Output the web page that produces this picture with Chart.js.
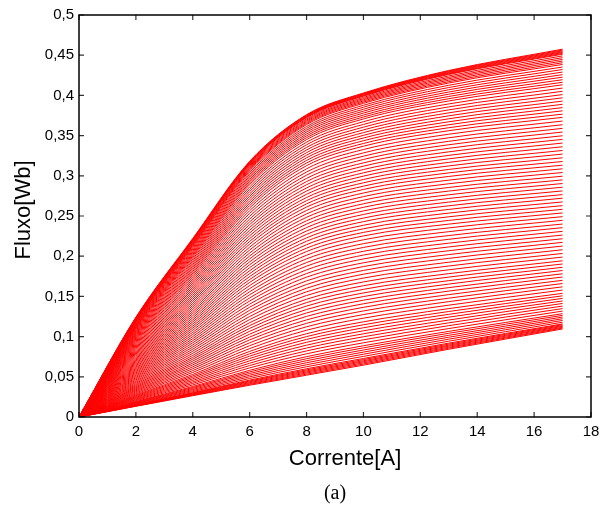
<!DOCTYPE html>
<html>
<head>
<meta charset="utf-8">
<title>Fluxo x Corrente</title>
<script src="https://cdn.jsdelivr.net/npm/chart.js@4.4.1/dist/chart.umd.min.js"></script>
<style>
  html, body { margin: 0; padding: 0; background: #fff; }
  #wrap { width: 607px; height: 510px; }
</style>
</head>
<body>
<div id="wrap"><canvas id="chart" width="607" height="510"></canvas></div>
<script>
// current samples [A], the same for every curve
const currents = [0, 2, 4, 6, 8, 10, 13, 17];

// flux [Wb] read at each current, one value per curve
// curve 0 = lowest (unaligned) ... curve 99 = highest (aligned)
const fluxAt0A = 0; // every curve starts at the origin
const fluxAt2A = [0.0133,
  0.0136, 0.0140, 0.0143, 0.0146, 0.0150, 0.0153,
  0.0160, 0.0167, 0.0173, 0.0180, 0.0187, 0.0193,
  0.0204, 0.0214, 0.0224, 0.0234, 0.0244, 0.0254, 0.0264, 0.0274,
  0.0287, 0.0300, 0.0313, 0.0326, 0.0338, 0.0351, 0.0364, 0.0377, 0.0390, 0.0403,
  0.0417, 0.0432, 0.0446, 0.0461, 0.0476, 0.0490, 0.0505, 0.0519, 0.0534, 0.0548, 0.0563, 0.0577, 0.0592,
  0.0606, 0.0621, 0.0636, 0.0650, 0.0665, 0.0679, 0.0694, 0.0708, 0.0723, 0.0737, 0.0752, 0.0767, 0.0781,
  0.0796, 0.0810, 0.0825, 0.0839, 0.0854, 0.0868, 0.0883, 0.0897, 0.0912, 0.0927, 0.0941, 0.0956, 0.0970,
  0.0983, 0.0996, 0.1009, 0.1022, 0.1035, 0.1047, 0.1060, 0.1073, 0.1086, 0.1099,
  0.1109, 0.1119, 0.1129, 0.1139, 0.1149, 0.1159, 0.1169, 0.1180,
  0.1186, 0.1193, 0.1200, 0.1206, 0.1213, 0.1220,
  0.1223, 0.1227, 0.1230, 0.1233, 0.1237, 0.1240];
const fluxAt4A = [0.0265,
  0.0271, 0.0278, 0.0284, 0.0291, 0.0297, 0.0304,
  0.0316, 0.0329, 0.0342, 0.0355, 0.0367, 0.0380,
  0.0399, 0.0418, 0.0436, 0.0455, 0.0474, 0.0493, 0.0511, 0.0530,
  0.0554, 0.0577, 0.0601, 0.0624, 0.0648, 0.0671, 0.0695, 0.0719, 0.0742, 0.0766,
  0.0792, 0.0818, 0.0844, 0.0870, 0.0896, 0.0923, 0.0949, 0.0975, 0.1001, 0.1027, 0.1053, 0.1080, 0.1106,
  0.1131, 0.1157, 0.1183, 0.1208, 0.1234, 0.1260, 0.1286, 0.1311, 0.1337, 0.1363, 0.1388, 0.1414, 0.1440,
  0.1465, 0.1490, 0.1515, 0.1541, 0.1566, 0.1591, 0.1616, 0.1642, 0.1667, 0.1692, 0.1717, 0.1743, 0.1768,
  0.1790, 0.1812, 0.1834, 0.1856, 0.1877, 0.1899, 0.1921, 0.1943, 0.1965, 0.1987,
  0.2004, 0.2021, 0.2037, 0.2054, 0.2071, 0.2088, 0.2105, 0.2122,
  0.2133, 0.2144, 0.2155, 0.2166, 0.2177, 0.2188,
  0.2193, 0.2198, 0.2204, 0.2209, 0.2215, 0.2220];
const fluxAt6A = [0.0395,
  0.0406, 0.0416, 0.0427, 0.0438, 0.0448, 0.0459,
  0.0479, 0.0500, 0.0520, 0.0541, 0.0561, 0.0581,
  0.0611, 0.0640, 0.0669, 0.0699, 0.0728, 0.0757, 0.0786, 0.0816,
  0.0851, 0.0887, 0.0923, 0.0959, 0.0994, 0.1030, 0.1066, 0.1102, 0.1137, 0.1173,
  0.1212, 0.1250, 0.1289, 0.1327, 0.1366, 0.1404, 0.1443, 0.1481, 0.1520, 0.1558, 0.1597, 0.1635, 0.1674,
  0.1710, 0.1747, 0.1784, 0.1820, 0.1857, 0.1894, 0.1930, 0.1967, 0.2003, 0.2040, 0.2077, 0.2113, 0.2150,
  0.2184, 0.2219, 0.2254, 0.2289, 0.2323, 0.2358, 0.2393, 0.2427, 0.2462, 0.2497, 0.2532, 0.2566, 0.2601,
  0.2630, 0.2659, 0.2688, 0.2717, 0.2746, 0.2775, 0.2804, 0.2833, 0.2862, 0.2891,
  0.2912, 0.2934, 0.2955, 0.2977, 0.2998, 0.3019, 0.3041, 0.3062,
  0.3076, 0.3089, 0.3102, 0.3116, 0.3129, 0.3143,
  0.3149, 0.3155, 0.3161, 0.3168, 0.3174, 0.3180];
const fluxAt8A = [0.0520,
  0.0533, 0.0547, 0.0560, 0.0573, 0.0586, 0.0600,
  0.0625, 0.0650, 0.0675, 0.0700, 0.0725, 0.0751,
  0.0786, 0.0822, 0.0858, 0.0893, 0.0929, 0.0965, 0.1000, 0.1036,
  0.1079, 0.1122, 0.1165, 0.1208, 0.1251, 0.1294, 0.1337, 0.1380, 0.1423, 0.1465,
  0.1511, 0.1557, 0.1602, 0.1648, 0.1693, 0.1739, 0.1784, 0.1830, 0.1876, 0.1921, 0.1967, 0.2012, 0.2058,
  0.2100, 0.2143, 0.2186, 0.2228, 0.2271, 0.2313, 0.2356, 0.2399, 0.2441, 0.2484, 0.2526, 0.2569, 0.2611,
  0.2651, 0.2691, 0.2730, 0.2770, 0.2810, 0.2849, 0.2889, 0.2928, 0.2968, 0.3008, 0.3047, 0.3087, 0.3126,
  0.3159, 0.3191, 0.3224, 0.3256, 0.3288, 0.3321, 0.3353, 0.3386, 0.3418, 0.3450,
  0.3474, 0.3497, 0.3520, 0.3544, 0.3567, 0.3590, 0.3613, 0.3637,
  0.3651, 0.3665, 0.3679, 0.3693, 0.3707, 0.3722,
  0.3728, 0.3734, 0.3741, 0.3747, 0.3754, 0.3760];
const fluxAt10A = [0.0645,
  0.0659, 0.0673, 0.0687, 0.0700, 0.0714, 0.0728,
  0.0754, 0.0781, 0.0807, 0.0833, 0.0860, 0.0886,
  0.0923, 0.0960, 0.0998, 0.1035, 0.1072, 0.1110, 0.1147, 0.1184,
  0.1229, 0.1274, 0.1319, 0.1364, 0.1408, 0.1453, 0.1498, 0.1543, 0.1588, 0.1633,
  0.1680, 0.1728, 0.1776, 0.1823, 0.1871, 0.1918, 0.1966, 0.2014, 0.2061, 0.2109, 0.2156, 0.2204, 0.2252,
  0.2296, 0.2341, 0.2385, 0.2430, 0.2474, 0.2519, 0.2563, 0.2608, 0.2652, 0.2697, 0.2741, 0.2786, 0.2830,
  0.2871, 0.2913, 0.2954, 0.2996, 0.3037, 0.3078, 0.3120, 0.3161, 0.3203, 0.3244, 0.3285, 0.3327, 0.3368,
  0.3402, 0.3436, 0.3470, 0.3503, 0.3537, 0.3571, 0.3605, 0.3639, 0.3673, 0.3707,
  0.3731, 0.3755, 0.3780, 0.3804, 0.3828, 0.3853, 0.3877, 0.3901,
  0.3916, 0.3931, 0.3946, 0.3960, 0.3975, 0.3990,
  0.3997, 0.4003, 0.4010, 0.4017, 0.4023, 0.4030];
const fluxAt13A = [0.0843,
  0.0856, 0.0868, 0.0881, 0.0893, 0.0906, 0.0919,
  0.0943, 0.0968, 0.0992, 0.1016, 0.1041, 0.1065,
  0.1100, 0.1136, 0.1171, 0.1206, 0.1242, 0.1277, 0.1312, 0.1348,
  0.1391, 0.1435, 0.1478, 0.1522, 0.1566, 0.1609, 0.1653, 0.1696, 0.1740, 0.1783,
  0.1831, 0.1878, 0.1925, 0.1973, 0.2020, 0.2068, 0.2115, 0.2162, 0.2210, 0.2257, 0.2305, 0.2352, 0.2399,
  0.2445, 0.2490, 0.2536, 0.2582, 0.2627, 0.2673, 0.2718, 0.2764, 0.2810, 0.2855, 0.2901, 0.2946, 0.2992,
  0.3036, 0.3079, 0.3123, 0.3167, 0.3211, 0.3254, 0.3298, 0.3342, 0.3386, 0.3429, 0.3473, 0.3517, 0.3561,
  0.3598, 0.3635, 0.3672, 0.3709, 0.3746, 0.3783, 0.3820, 0.3857, 0.3894, 0.3931,
  0.3959, 0.3987, 0.4015, 0.4042, 0.4070, 0.4098, 0.4126, 0.4154,
  0.4171, 0.4189, 0.4207, 0.4224, 0.4242, 0.4260,
  0.4268, 0.4276, 0.4285, 0.4293, 0.4302, 0.4310];
const fluxAt17A = [0.1095,
  0.1106, 0.1116, 0.1127, 0.1137, 0.1148, 0.1158,
  0.1179, 0.1201, 0.1222, 0.1243, 0.1264, 0.1285,
  0.1317, 0.1348, 0.1380, 0.1412, 0.1443, 0.1475, 0.1507, 0.1538,
  0.1579, 0.1619, 0.1660, 0.1700, 0.1741, 0.1781, 0.1822, 0.1862, 0.1903, 0.1943,
  0.1989, 0.2034, 0.2080, 0.2126, 0.2172, 0.2217, 0.2263, 0.2309, 0.2355, 0.2400, 0.2446, 0.2492, 0.2538,
  0.2583, 0.2629, 0.2675, 0.2721, 0.2766, 0.2812, 0.2858, 0.2904, 0.2949, 0.2995, 0.3041, 0.3087, 0.3132,
  0.3178, 0.3224, 0.3270, 0.3315, 0.3361, 0.3407, 0.3453, 0.3498, 0.3544, 0.3590, 0.3635, 0.3681, 0.3727,
  0.3767, 0.3808, 0.3848, 0.3889, 0.3929, 0.3970, 0.4010, 0.4051, 0.4091, 0.4132,
  0.4163, 0.4195, 0.4227, 0.4258, 0.4290, 0.4322, 0.4353, 0.4385,
  0.4406, 0.4427, 0.4448, 0.4469, 0.4491, 0.4512,
  0.4522, 0.4533, 0.4543, 0.4554, 0.4564, 0.4575];

const fluxColumns = [fluxAt2A, fluxAt4A, fluxAt6A, fluxAt8A, fluxAt10A, fluxAt13A, fluxAt17A];

// axes
const xTicks = [0, 2, 4, 6, 8, 10, 12, 14, 16, 18];
const xTickLabels = ["0", "2", "4", "6", "8", "10", "12", "14", "16", "18"];
const yTicks = [0, 0.05, 0.1, 0.15, 0.2, 0.25, 0.3, 0.35, 0.4, 0.45, 0.5];
const yTickLabels = ["0", "0,05", "0,1", "0,15", "0,2", "0,25", "0,3", "0,35", "0,4", "0,45", "0,5"];
const xTitle = "Corrente[A]";
const yTitle = "Fluxo[Wb]";
const caption = "(a)";

// one dataset per curve
const datasets = fluxAt17A.map((_, k) => ({
  data: currents.map((c, j) => ({ x: c, y: j === 0 ? fluxAt0A : fluxColumns[j - 1][k] })),
  borderColor: "#ff0000",
  borderWidth: 1,
  pointRadius: 0,
  fill: false,
  cubicInterpolationMode: "monotone"
}));

// box, inward ticks, axis titles and caption
const frameAndTitles = {
  id: "frameAndTitles",
  afterDraw(chart) {
    const { ctx, chartArea: a } = chart;
    const x = chart.scales.x, y = chart.scales.y;
    ctx.save();

    ctx.strokeStyle = "#333";
    ctx.lineWidth = 1.2;
    ctx.beginPath();
    xTicks.forEach(v => {
      const px = x.getPixelForValue(v);
      ctx.moveTo(px, a.bottom); ctx.lineTo(px, a.bottom - 5);
      ctx.moveTo(px, a.top); ctx.lineTo(px, a.top + 5);
    });
    yTicks.forEach(v => {
      const py = y.getPixelForValue(v);
      ctx.moveTo(a.left, py); ctx.lineTo(a.left + 5, py);
      ctx.moveTo(a.right, py); ctx.lineTo(a.right - 5, py);
    });
    ctx.stroke();

    ctx.strokeStyle = "#000";
    ctx.lineWidth = 1.5;
    ctx.strokeRect(a.left, a.top, a.right - a.left, a.bottom - a.top);

    ctx.fillStyle = "#000";
    ctx.textAlign = "center";
    ctx.textBaseline = "middle";
    ctx.font = '22px "Liberation Sans", Arial, sans-serif';
    ctx.fillText(xTitle, (a.left + a.right) / 2 + 10, 459);

    ctx.save();
    ctx.translate(24, (a.top + a.bottom) / 2 - 6);
    ctx.rotate(-Math.PI / 2);
    ctx.fillText(yTitle, 0, 0);
    ctx.restore();

    ctx.font = '20px "Liberation Serif", "Times New Roman", serif';
    ctx.fillText(caption, (a.left + a.right) / 2, 494);

    ctx.restore();
  }
};

const tickFont = { family: '"Liberation Sans", Arial, sans-serif', size: 15 };

new Chart(document.getElementById("chart").getContext("2d"), {
  type: "line",
  data: { datasets },
  options: {
    responsive: false,
    animation: false,
    events: [],
    devicePixelRatio: 1,
    layout: { padding: { top: 15, right: 16, bottom: 0, left: 0 } },
    plugins: {
      legend: { display: false },
      tooltip: { enabled: false },
      title: { display: false }
    },
    scales: {
      x: {
        type: "linear",
        min: 0,
        max: 18,
        afterBuildTicks: s => { s.ticks = xTicks.map(v => ({ value: v })); },
        afterFit: s => { s.height = 93; },
        grid: { display: false, drawTicks: false },
        border: { display: false },
        ticks: {
          color: "#000",
          font: tickFont,
          padding: 6,
          maxRotation: 0,
          autoSkip: false,
          callback: (v, i) => xTickLabels[i]
        }
      },
      y: {
        type: "linear",
        min: 0,
        max: 0.5,
        afterBuildTicks: s => { s.ticks = yTicks.map(v => ({ value: v })); },
        afterFit: s => { s.width = 79; },
        grid: { display: false, drawTicks: false },
        border: { display: false },
        ticks: {
          color: "#000",
          font: tickFont,
          padding: 5,
          autoSkip: false,
          callback: (v, i) => yTickLabels[i]
        }
      }
    }
  },
  plugins: [frameAndTitles]
});
</script>
</body>
</html>
